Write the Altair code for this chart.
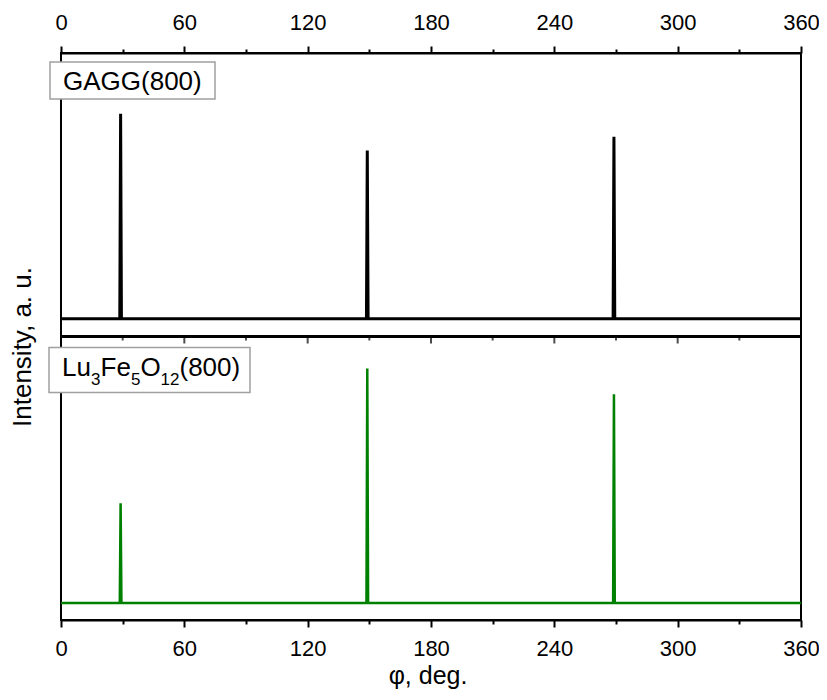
import altair as alt
import pandas as pd

# ---- data ----
phi_peaks = [29, 149, 269]            # peak positions, deg
gagg_peaks = [78.6, 65.6, 70.5]       # GAGG(800) peak intensities (a.u.)
gagg_base = 6.3                       # GAGG background level
lfo_peaks = [41.2, 88.7, 79.6]        # Lu3Fe5O12(800) peak intensities (a.u.)
lfo_base = 6.0                        # Lu3Fe5O12 background level
half_width = 0.4                      # peak half width, deg
x_ticks = list(range(0, 361, 30))
gagg_label = ["GAGG(800)"]
lfo_parts = ["Lu", "3", "Fe", "5", "O", "12", "(800)"]
lfo_sub = [False, True, False, True, False, True, False]
panel_offset = 100                    # top panel is stacked above the bottom one


def profile(peaks, base):
    xs, ys = [0], [base]
    for p, h in zip(phi_peaks, peaks):
        xs += [p - half_width, p, p + half_width]
        ys += [base, h, base]
    xs.append(360)
    ys.append(base)
    return pd.DataFrame({"phi": xs, "I": ys, "o": list(range(len(xs)))})


df_top = profile(gagg_peaks, gagg_base)
df_bot = profile(lfo_peaks, lfo_base)
df_ticks = pd.DataFrame({"phi": x_ticks})

FONT = "Liberation Sans"
W = 740
H = 567
PANEL = H / 2
major = "datum.value % 60 === 0"
tick_size = {"condition": {"test": major, "value": 7}, "value": 4}
lab_expr = "datum.value % 60 === 0 ? datum.label : ''"
x_scale = alt.Scale(domain=[0, 360], nice=False, zero=False)
y_scale = alt.Scale(domain=[0, 2 * panel_offset], nice=False, zero=False)

common = dict(values=x_ticks, tickSize=tick_size, tickColor="black", tickWidth=2,
              domainColor="black", domainWidth=2, grid=False, labelFlush=False,
              labelFont=FONT, labelFontSize=22, labelColor="black", title=None)

top_axis = alt.Axis(orient="top", labelExpr=lab_expr, labelPadding=12, **common)
bot_axis = alt.Axis(orient="bottom", labelExpr=lab_expr, labelPadding=11, **common)

top_line = alt.Chart(df_top).transform_calculate(
    Y=f"datum.I + {panel_offset}"
).mark_line(color="black", strokeWidth=3).encode(
    x=alt.X("phi:Q", scale=x_scale, axis=top_axis),
    y=alt.Y("Y:Q", scale=y_scale, axis=None),
    order="o:Q",
)
bot_line = alt.Chart(df_bot).mark_line(color="#008000", strokeWidth=2.5).encode(
    x=alt.X("phi:Q", scale=x_scale, axis=bot_axis),
    y=alt.Y("I:Q", scale=y_scale, axis=None),
    order="o:Q",
)

divider = alt.Chart(df_ticks).mark_rule(color="black", strokeWidth=2).encode(
    x=alt.XDatum(0, scale=x_scale, axis=None),
    x2=alt.X2Datum(360),
    y=alt.YDatum(panel_offset, scale=y_scale, axis=None),
)
mid_major = alt.Chart(df_ticks).transform_filter("datum.phi % 60 === 0").mark_tick(
    orient="vertical", color="black", thickness=2, size=7, yOffset=3.5
).encode(x=alt.X("phi:Q", scale=x_scale, axis=None),
         y=alt.YDatum(panel_offset, scale=y_scale, axis=None))
mid_minor = alt.Chart(df_ticks).transform_filter("datum.phi % 60 !== 0").mark_tick(
    orient="vertical", color="black", thickness=2, size=4, yOffset=2
).encode(x=alt.X("phi:Q", scale=x_scale, axis=None),
         y=alt.YDatum(panel_offset, scale=y_scale, axis=None))

box_top = alt.Chart(pd.DataFrame({"t": gagg_label})).mark_rect(
    fill="white", stroke="#a0a0a0", strokeWidth=1.5
).encode(x=alt.value(-11), x2=alt.value(154), y=alt.value(9), y2=alt.value(46))
txt_top = alt.Chart(pd.DataFrame({"t": gagg_label})).mark_text(
    align="left", baseline="alphabetic", font=FONT, fontSize=26, color="black"
).encode(x=alt.value(2), y=alt.value(37), text="t:N")

by = PANEL
box_bot = alt.Chart(pd.DataFrame({"t": ["".join(lfo_parts)]})).mark_rect(
    fill="white", stroke="#a0a0a0", strokeWidth=1.5
).encode(x=alt.value(-12), x2=alt.value(189), y=alt.value(by + 11), y2=alt.value(by + 56))

part_x = [1, 30, 39.5, 70, 79.5, 99.5, 118.5]
txt_layers = []
for part, sub, px in zip(lfo_parts, lfo_sub, part_x):
    txt_layers.append(
        alt.Chart(pd.DataFrame({"t": [part]})).mark_text(
            align="left", baseline="alphabetic", font=FONT,
            fontSize=17 if sub else 26, color="black"
        ).encode(x=alt.value(px), y=alt.value(by + (48 if sub else 39)), text="t:N")
    )

y_title = alt.Chart(pd.DataFrame({"t": ["Intensity, a. u."]})).mark_text(
    align="center", baseline="middle", angle=270, font=FONT, fontSize=26, color="black"
).encode(x=alt.value(-38), y=alt.value(294), text="t:N")
x_title = alt.Chart(pd.DataFrame({"t": ["φ, deg."]})).mark_text(
    align="center", baseline="alphabetic", font=FONT, fontSize=25, color="black"
).encode(x=alt.value(367), y=alt.value(H + 64), text="t:N")

chart = alt.layer(
    top_line, bot_line, divider, mid_major, mid_minor,
    box_top, txt_top, box_bot, *txt_layers, y_title, x_title
).resolve_axis(x="independent").properties(
    width=W, height=H,
    autosize=alt.AutoSizeParams(type="none"),
    padding={"left": 53, "top": 45, "right": 18, "bottom": 70},
).configure_view(stroke="black", strokeWidth=2)

chart.save("out.html", embed_options={"renderer": "svg", "actions": False})
